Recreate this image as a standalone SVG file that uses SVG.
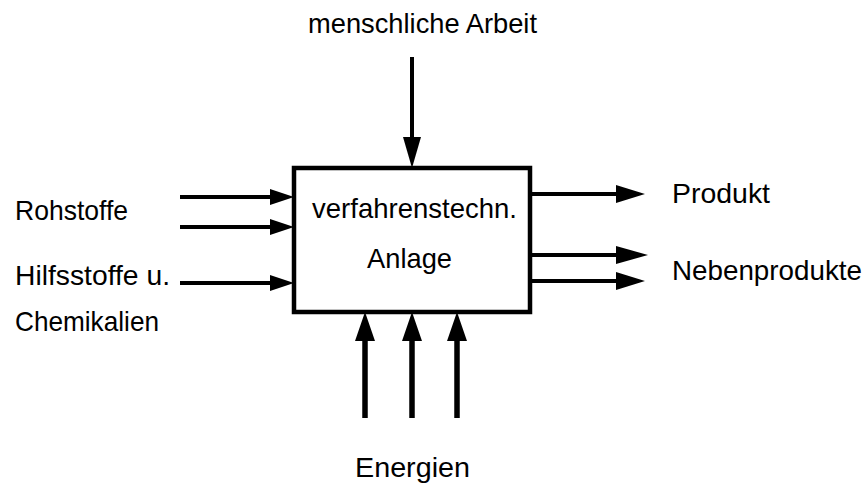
<svg xmlns="http://www.w3.org/2000/svg" width="866" height="486" viewBox="0 0 866 486">
<style>
text{font-family:"Liberation Sans",Arial,sans-serif;font-size:28px;fill:#000}
.ln{stroke:#000;stroke-width:4;fill:none}
.thick{stroke:#000;stroke-width:5.5;fill:none}
.box{stroke:#000;stroke-width:4.5;fill:#fff}
.hd{fill:#000}
</style>
<rect width="866" height="486" fill="#fff"/>
<g id="connectors">
<line class="ln" x1="180" y1="197" x2="274" y2="197"/>
<polygon class="hd" points="294,197 270,189 270,205"/>
<line class="ln" x1="180" y1="227" x2="274" y2="227"/>
<polygon class="hd" points="294,227 270,219 270,235"/>
<line class="ln" x1="180" y1="283" x2="274" y2="283"/>
<polygon class="hd" points="294,283 270,275 270,291"/>
<line class="ln" x1="412" y1="57" x2="412" y2="145"/>
<polygon class="hd" points="412,168 403,137 421,137"/>
<line class="ln" x1="530" y1="194" x2="620" y2="194"/>
<polygon class="hd" points="645,194 616,185 616,203"/>
<line class="ln" x1="530" y1="255" x2="620" y2="255"/>
<polygon class="hd" points="648,255 616,246 616,264"/>
<line class="ln" x1="530" y1="281" x2="620" y2="281"/>
<polygon class="hd" points="645,281 616,272 616,290"/>
<line class="thick" x1="365" y1="418" x2="365" y2="335"/>
<polygon class="hd" points="365,312 355,341 375,341"/>
<line class="thick" x1="412" y1="418" x2="412" y2="335"/>
<polygon class="hd" points="412,312 402,341 422,341"/>
<line class="thick" x1="457" y1="418" x2="457" y2="335"/>
<polygon class="hd" points="457,312 447,341 467,341"/>
</g>
<g id="anlage">
<rect class="box" x="294" y="168" width="236" height="144"/>
<text x="312" y="218" textLength="205" lengthAdjust="spacingAndGlyphs">verfahrenstechn.</text>
<text x="367" y="268" textLength="85" lengthAdjust="spacingAndGlyphs">Anlage</text>
</g>
<g id="arbeit"><text x="308" y="33" textLength="229" lengthAdjust="spacingAndGlyphs">menschliche Arbeit</text></g>
<g id="rohstoffe"><text x="15" y="220" textLength="113" lengthAdjust="spacingAndGlyphs">Rohstoffe</text></g>
<g id="hilfsstoffe">
<text x="15" y="285" textLength="155" lengthAdjust="spacingAndGlyphs">Hilfsstoffe u.</text>
<text x="15" y="331" textLength="144" lengthAdjust="spacingAndGlyphs">Chemikalien</text>
</g>
<g id="produkt"><text x="672" y="203" textLength="98" lengthAdjust="spacingAndGlyphs">Produkt</text></g>
<g id="nebenprodukte"><text x="672" y="280" textLength="190" lengthAdjust="spacingAndGlyphs">Nebenprodukte</text></g>
<g id="energien"><text x="355" y="477" textLength="115" lengthAdjust="spacingAndGlyphs">Energien</text></g>
</svg>
